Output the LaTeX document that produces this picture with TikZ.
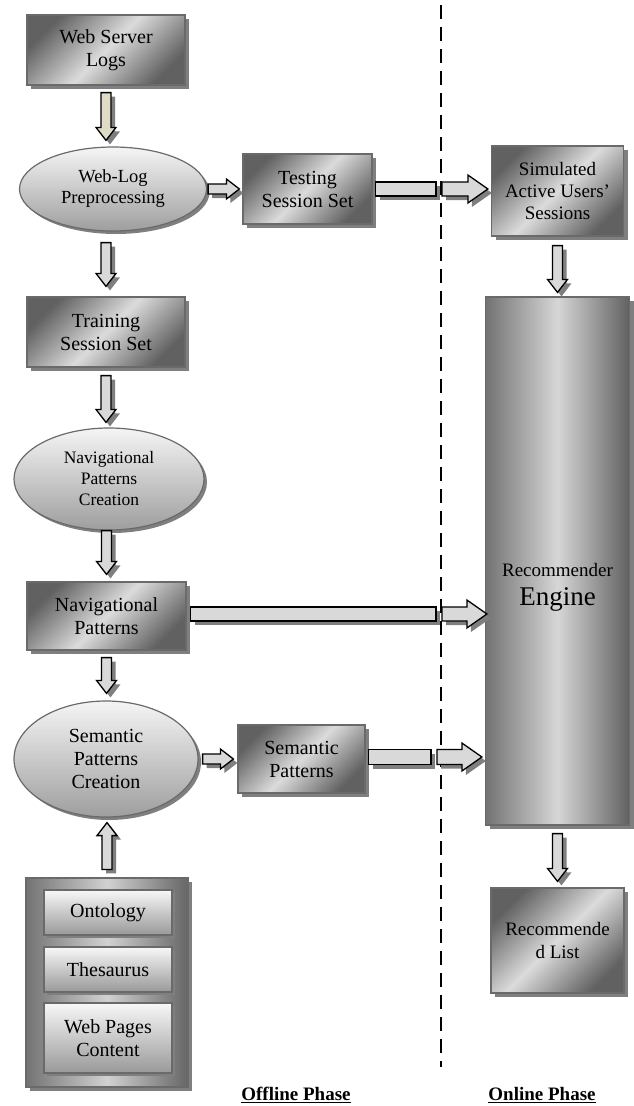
\documentclass[tikz,border=0pt]{standalone}
\usepackage{fontspec}
\setmainfont{Liberation Serif}
\usepackage{xcolor}
\usepackage{tikz}
\usetikzlibrary{shapes.geometric, arrows, positioning, calc, shadows}
\definecolor{mShadow}{HTML}{7F7F7F}
\definecolor{mBorder}{HTML}{6A6A6A}
\definecolor{mArrow}{HTML}{D9D9D9}
\definecolor{mBeige}{HTML}{DEDBC6}

\tikzset{arrW/.store in=\arrW, arrH/.store in=\arrH, arrL/.store in=\arrL}
\newcommand{\blockarrow}[3][]{%
  \begin{scope}[arrW=5pt, arrH=10pt, arrL=13pt, #1]
    \filldraw[barrowline, #1]
      ($#2!\arrW!90:#3$) -- ($#3!\arrL!#2!\arrW!-90:#2$) -- ($#3!\arrL!#2!\arrH!-90:#2$) -- #3
      -- ($#3!\arrL!#2!\arrH!90:#2$) -- ($#3!\arrL!#2!\arrW!90:#2$) -- ($#2!\arrW!-90:#3$) -- cycle;
  \end{scope}}
\newcommand{\blockshaft}[3][]{%
  \begin{scope}[arrW=7pt, #1]
    \filldraw[barrowline, #1]
      ($#2!\arrW!90:#3$) -- ($#3!\arrW!-90:#2$) -- ($#3!\arrW!90:#2$) -- ($#2!\arrW!-90:#3$) -- cycle;
  \end{scope}}

\begin{document}
\begin{tikzpicture}[x=1pt, y=-1pt,
    box/.style={rectangle, draw=mBorder, line width=1.2pt, left color=black!62, right color=black!62, middle color=black!14, shading angle=45, align=center, inner sep=2pt, font=\fontsize{20}{23}\selectfont, drop shadow={shadow xshift=4pt, shadow yshift=-4pt, opacity=1, fill=mShadow}},
    oval/.style={ellipse, draw=mBorder, line width=1.2pt, top color=black!4, bottom color=black!38, align=center, inner sep=0pt, drop shadow={shadow xshift=3pt, shadow yshift=-3pt, opacity=1, fill=mShadow}},
    engbox/.style={rectangle, draw=mBorder, line width=1.2pt, left color=black!55, right color=black!62, middle color=black!16, minimum width=144, minimum height=528, drop shadow={shadow xshift=4pt, shadow yshift=-4pt, opacity=1, fill=mShadow}},
    kbox/.style={rectangle, draw=mBorder, line width=1.2pt, left color=black!55, right color=black!60, middle color=black!18, minimum width=162, minimum height=209, drop shadow={shadow xshift=4pt, shadow yshift=-4pt, opacity=1, fill=mShadow}},
    kbitem/.style={rectangle, draw=mBorder, line width=1.2pt, top color=black!3, bottom color=black!40, minimum width=128, align=center, font=\fontsize{20}{23}\selectfont, drop shadow={shadow xshift=3pt, shadow yshift=-3pt, opacity=1, fill=mShadow}},
    barrowline/.style={draw=black, line width=1.3pt, fill=mArrow, line join=miter, drop shadow={shadow xshift=4pt, shadow yshift=-4pt, opacity=1, fill=mShadow}},
    phase/.style={font=\bfseries\fontsize{19}{22}\selectfont}
]
    \useasboundingbox (0,0) rectangle (633,1106);

    \coordinate (dtop) at (441,5);
    \coordinate (dbot) at (441,1067);
    \draw[line width=2.6pt, dash pattern=on 14pt off 8pt] (dtop) -- (dbot);

    \node[box, minimum width=158, minimum height=70] (wsl) at (106,50) {Web Server\\Logs};
    \node[oval, minimum width=187, minimum height=84, font=\fontsize{18.5}{21}\selectfont] (wlp) at (113,189) {Web-Log\\Preprocessing};
    \node[box, minimum width=129, minimum height=70] (tss) at (307.5,189) {Testing\\Session Set};
    \node[box, minimum width=132, minimum height=90, font=\fontsize{19}{22}\selectfont] (sau) at (557.5,191) {Simulated\\Active Users'\\Sessions};
    \node[box, minimum width=158, minimum height=70] (trs) at (106,332) {Training\\Session Set};
    \node[oval, minimum width=190, minimum height=102, font=\fontsize{17.5}{21}\selectfont] (npc) at (109,479) {Navigational\\Patterns\\Creation};
    \node[box, minimum width=159, minimum height=68] (nvp) at (106.5,616) {Navigational\\Patterns};
    \node[oval, minimum width=184, minimum height=116, font=\fontsize{20}{23}\selectfont] (spc) at (106,759) {Semantic\\Patterns\\Creation};
    \node[box, minimum width=127, minimum height=68] (smp) at (301.5,759) {Semantic\\Patterns};
    \node[engbox] (eng) at (557.5,561) {};
    \node[font=\fontsize{19}{22}\selectfont, align=center] (engtxt) at ([yshift=-26pt]eng.center) {Recommender\\[7pt]{\fontsize{27}{28}\selectfont Engine}};
    \node[box, minimum width=133, minimum height=105, font=\fontsize{19}{23}\selectfont] (rel) at (557.5,940.5) {Recommende\\d List};

    \node[kbox] (kb) at (107,982.5) {};
    \node[kbitem, minimum height=45] (ont) at (108,912.5) {Ontology};
    \node[kbitem, minimum height=45] (the) at (108,969.5) {Thesaurus};
    \node[kbitem, minimum height=70] (wpc) at (108,1038) {Web Pages\\Content};

    \node[phase] (offl) at (296,1095) {\underline{Offline Phase}};
    \node[phase] (onl) at (542,1095) {\underline{Online Phase}};

    \blockarrow[fill=mBeige]{([yshift=-7pt]wsl.south)}{([yshift=6pt]wsl.south |- wlp.north)}
    \blockarrow{([yshift=-11pt]trs.north |- wlp.south)}{([yshift=10pt]trs.north)}
    \blockarrow{([yshift=-8pt]trs.south)}{([yshift=5pt]trs.south |- npc.north)}
    \blockarrow{([yshift=0pt]nvp.north |- npc.south)}{([yshift=7pt]nvp.north)}
    \blockarrow{([yshift=-7pt]nvp.south)}{([yshift=7pt]nvp.south |- spc.north)}
    \blockarrow{([yshift=8pt]kb.north)}{([yshift=-5pt]kb.north |- spc.south)}
    \blockarrow{([xshift=1pt]wlp.east)}{([xshift=-3pt]tss.west)}
    \blockarrow{([xshift=4pt]spc.east)}{([xshift=-4pt]smp.west)}
    \blockarrow{([yshift=-9pt]sau.south)}{([yshift=4pt]eng.north)}
    \blockarrow{([yshift=-8pt]eng.south)}{([yshift=6pt]rel.north)}

    \coordinate (cut1a) at (436,189);
    \coordinate (cut1b) at (442,189);
    \blockshaft{([xshift=3pt]tss.east)}{(cut1a)}
    \blockarrow[arrW=7pt, arrH=14pt, arrL=20pt]{(cut1b)}{([xshift=-3pt]sau.west |- cut1b)}

    \coordinate (cut2a) at (436,614);
    \coordinate (cut2b) at (442,614);
    \blockshaft{([xshift=4pt]nvp.east |- cut2a)}{(cut2a)}
    \blockarrow[arrW=7pt, arrH=14pt, arrL=20pt]{(cut2b)}{([xshift=2pt]eng.west |- cut2b)}

    \coordinate (cut3a) at (431,757);
    \coordinate (cut3b) at (437,757);
    \blockshaft[arrW=7.5pt]{([xshift=3pt]smp.east |- cut3a)}{(cut3a)}
    \blockarrow[arrW=7.5pt, arrH=14pt, arrL=20pt]{(cut3b)}{([xshift=-3pt]eng.west |- cut3b)}
\end{tikzpicture}
\end{document}
